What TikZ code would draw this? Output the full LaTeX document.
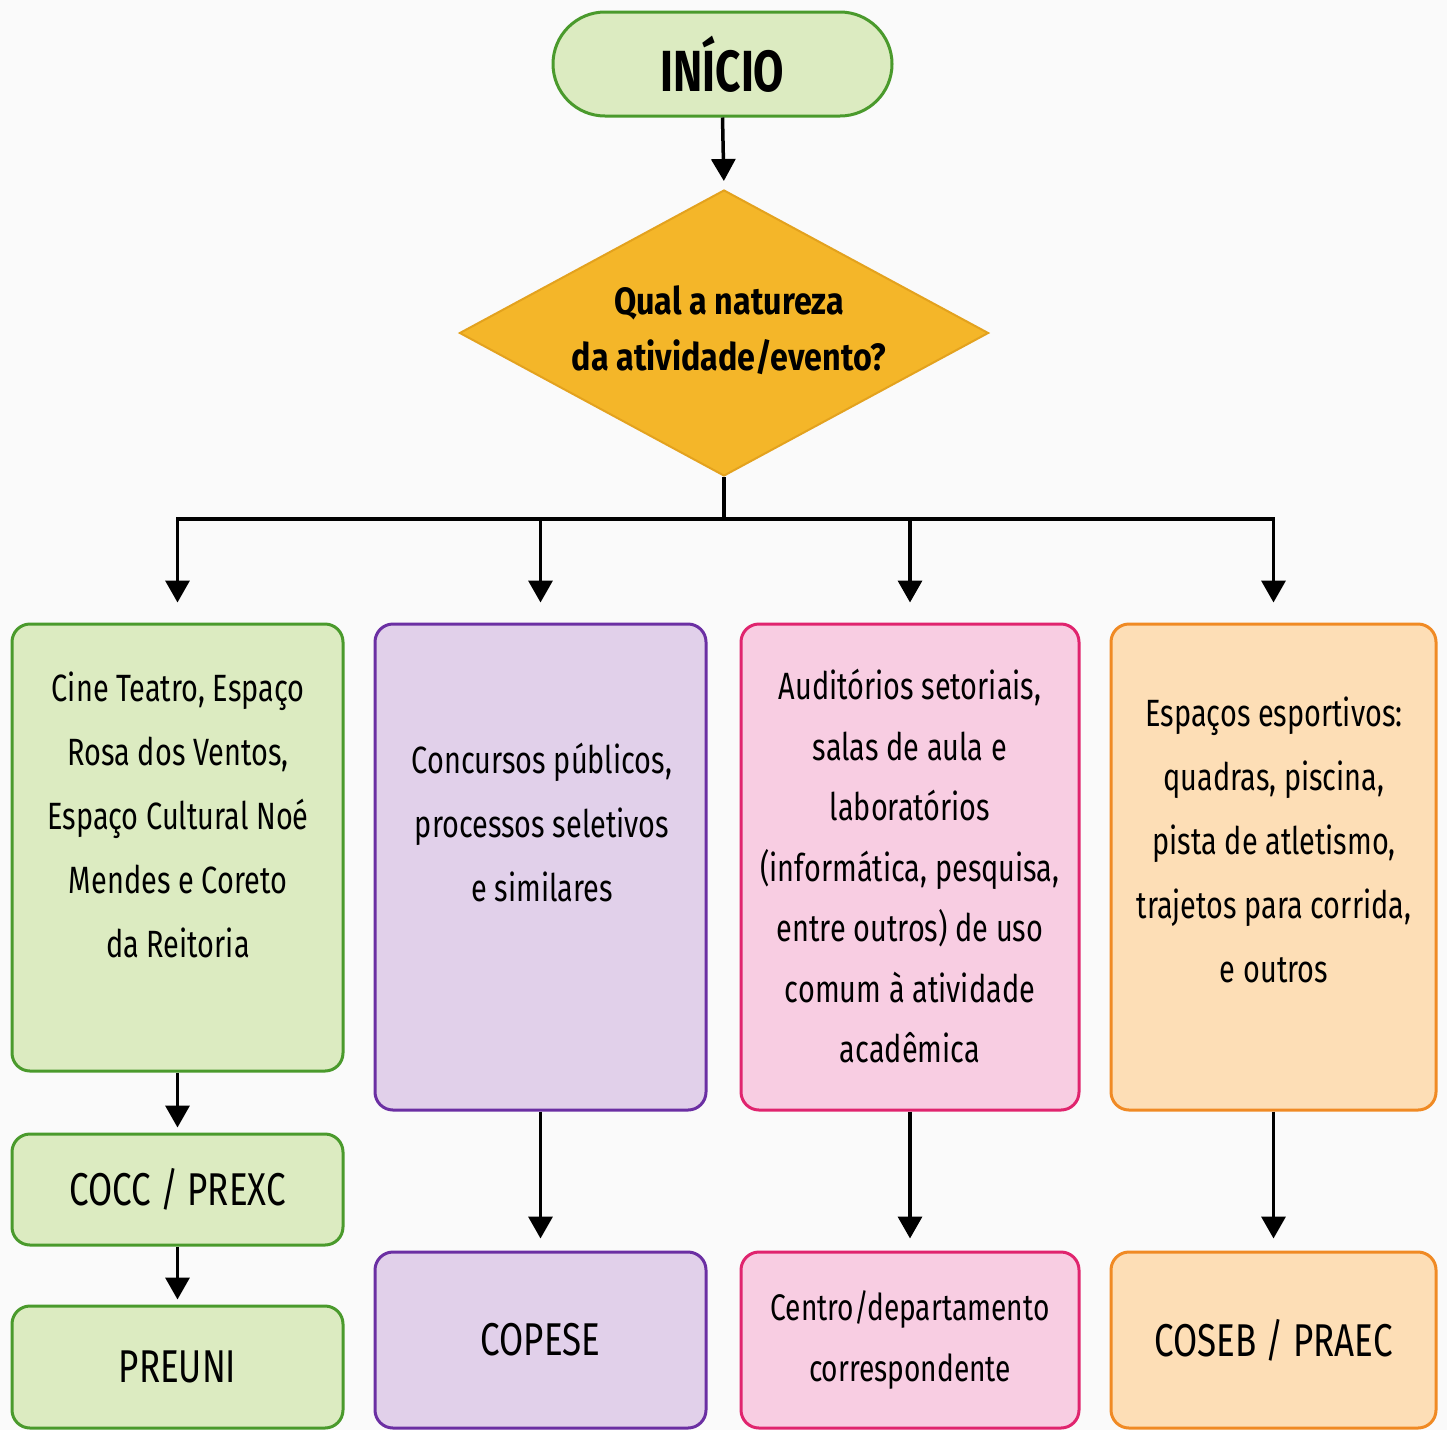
\documentclass[tikz,border=0pt]{standalone}
\usepackage{fontspec}
\setmainfont{Fira Sans}[FakeStretch=0.76]
\newfontfamily\diafont{Fira Sans}[FakeStretch=0.85]
\usetikzlibrary{shapes.geometric,arrows.meta}
\definecolor{gfill}{HTML}{DCEBC1}
\definecolor{gline}{HTML}{4A9A2C}
\definecolor{pfill}{HTML}{E1D0EA}
\definecolor{pline}{HTML}{6B2FA3}
\definecolor{kfill}{HTML}{F8CDE2}
\definecolor{kline}{HTML}{E0246E}
\definecolor{ofill}{HTML}{FDDEB6}
\definecolor{oline}{HTML}{F08A24}
\definecolor{dfill}{HTML}{F4B629}
\definecolor{dline}{HTML}{E3A21E}
\definecolor{bg}{HTML}{FAFAFA}
\begin{document}
\begin{tikzpicture}[x=1pt,y=-1pt,
  box/.style={draw, line width=3pt, rounded corners=18pt, inner sep=0pt},
  gbox/.style={box, draw=gline, fill=gfill},
  pbox/.style={box, draw=pline, fill=pfill},
  kbox/.style={box, draw=kline, fill=kfill},
  obox/.style={box, draw=oline, fill=ofill},
  body/.style={align=center, font=\fontsize{38}{64}\selectfont, text=black},
  lab/.style={font=\fontsize{46}{52}\selectfont},
  arr/.style={line width=3.5pt, -{Triangle[width=24pt,length=22pt]}},
  ln/.style={line width=3.5pt}
]
\fill[bg] (0,0) rectangle (1447,1430);
\useasboundingbox (0,0) rectangle (1447,1430);

% start
\node[draw=gline, fill=gfill, line width=3pt, rounded corners=52pt,
      minimum width=339pt, minimum height=104pt, inner sep=0pt,
      font=\fontsize{58}{62}\selectfont\bfseries] (start) at (722.5,64) {INÍCIO};

% decision
\node[diamond, draw=dline, fill=dfill, line width=2pt, inner sep=0pt,
      minimum width=529pt, minimum height=286pt] (dia) at (724,333) {};
\node[align=center, font=\fontsize{38}{56}\diafont\bfseries] (diat) at (729,330)
  {Qual a natureza\\da atividade/evento?};

% first row
\node[gbox, minimum width=331pt, minimum height=447pt] (g1) at (177.5,847.5) {};
\node[pbox, minimum width=331pt, minimum height=486pt] (p1) at (540.5,867) {};
\node[kbox, minimum width=338pt, minimum height=486pt] (k1) at (910,867) {};
\node[obox, minimum width=325pt, minimum height=486pt] (o1) at (1273.5,867) {};

\node[body] (g1t) at (178,815) {Cine Teatro, Espaço\\Rosa dos Ventos,\\Espaço Cultural Noé\\Mendes e Coreto\\da Reitoria};
\node[body] (p1t) at (542,822) {Concursos públicos,\\processos seletivos\\e similares};
\node[body, font=\fontsize{38}{60.5}\selectfont] (k1t) at (910,866) {Auditórios setoriais,\\salas de aula e\\laboratórios\\(informática, pesquisa,\\entre outros) de uso\\comum à atividade\\acadêmica};
\node[body] (o1t) at (1274,840) {Espaços esportivos:\\quadras, piscina,\\pista de atletismo,\\trajetos para corrida,\\e outros};

% lower boxes
\node[gbox, minimum width=331pt, minimum height=111pt, lab] (g2) at (177.5,1189.5) {COCC / PREXC};
\node[gbox, minimum width=331pt, minimum height=122pt, lab] (g3) at (177.5,1367) {PREUNI};
\node[pbox, minimum width=331pt, minimum height=176pt, lab] (p2) at (540.5,1340) {COPESE};
\node[kbox, minimum width=338pt, minimum height=176pt, align=center, font=\fontsize{37}{61}\selectfont] (k2) at (910,1340) {Centro/departamento\\correspondente};
\node[obox, minimum width=325pt, minimum height=176pt, lab] (o2) at (1273.5,1340) {COSEB / PRAEC};

% connectors
\draw[arr, shorten >=8pt] (start.south) -- (dia.north);
\coordinate (bar) at (724,519);
\draw[ln] (dia.south) -- (bar);
\draw[arr, shorten >=20pt] (bar) -| (g1.north);
\draw[arr, shorten >=20pt] (bar) -| (p1.north);
\draw[arr, shorten >=20pt] (bar) -| (k1.north);
\draw[arr, shorten >=20pt] (bar) -| (o1.north);
\draw[arr, shorten >=5pt] (g1.south) -- (g2.north);
\draw[arr, shorten >=5pt] (g2.south) -- (g3.north);
\draw[arr, shorten >=12pt] (p1.south) -- (p2.north);
\draw[arr, shorten >=12pt] (k1.south) -- (k2.north);
\draw[arr, shorten >=12pt] (o1.south) -- (o2.north);
\end{tikzpicture}
\end{document}
